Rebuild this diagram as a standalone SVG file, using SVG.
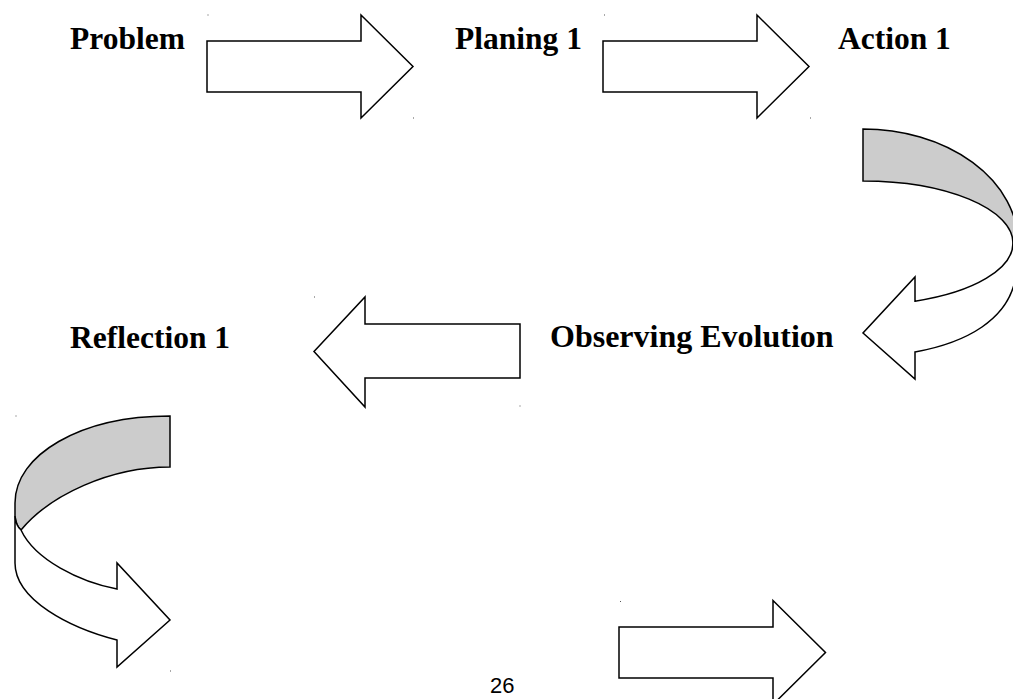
<svg xmlns="http://www.w3.org/2000/svg" width="1013" height="699" viewBox="0 0 1013 699">
  <style>
    .lbl { font-family: "Liberation Serif", "Times New Roman", serif; font-weight: bold; font-size: 31.5px; fill: #000; }
    .arr { fill: #fff; stroke: #000; stroke-width: 1.5; stroke-linejoin: miter; }
    .back { fill: #cccccc; stroke: #000; stroke-width: 1.5; stroke-linejoin: miter; }
    .dot { fill: #555; }
    .pg { font-family: "Liberation Sans", Arial, sans-serif; font-size: 22px; fill: #000; }
  </style>
  <rect width="1013" height="699" fill="#fff"/>

  <g id="node-problem"><text class="lbl" x="70" y="49">Problem</text></g>
  <g id="node-planing1"><text class="lbl" x="455" y="49">Planing 1</text></g>
  <g id="node-action1"><text class="lbl" x="838" y="49">Action 1</text></g>
  <g id="node-observing"><text class="lbl" x="550" y="347" style="font-size:32px">Observing Evolution</text></g>
  <g id="node-reflection1"><text class="lbl" x="70" y="348">Reflection 1</text></g>

  <g id="connectors">
    <path class="arr" d="M207,41 L361,41 L361,15 L413,66.5 L361,118 L361,92 L207,92 Z"/>
    <path class="arr" d="M603,41 L757,41 L757,15 L809,66.5 L757,118 L757,92 L603,92 Z"/>
    <g id="curved-1">
      <path class="back" d="M863,129 A155,114 0 0 1 1018,243 L1013,243 A150,62 0 0 0 863,181 Z"/>
      <path class="arr" d="M1013,243 A150,62 0 0 1 915,301.2 L915,277 L863,333 L915,379 L915,352 C965,343 1010,320 1016,275 L1016,243 Z"/>
    </g>
    <path class="arr" d="M520,324 L365,324 L365,297 L314,351.5 L365,407 L365,378 L520,378 Z"/>
    <g id="curved-2">
      <path class="back" d="M170,416 C80,416 15,455 15,503 L15,516 Q16,526 21,530 C50,495 110,467 170,467 Z"/>
      <path class="arr" d="M21,530 C35,560 80,582 117,589 L117,563 L170,620 L117,667 L117,640 C70,628 15,600 15,563 L15,516 Q16,526 21,530 Z"/>
    </g>
    <path class="arr" d="M619,627 L773,627 L773,600.5 L825.5,652.5 L773,704.5 L773,678 L619,678 Z"/>
  </g>

  <g id="marks">
    <rect class="dot" x="207.5" y="14.5" width="1" height="1"/>
    <rect class="dot" x="413" y="117.5" width="1" height="1"/>
    <rect class="dot" x="604" y="14.5" width="1" height="1"/>
    <rect class="dot" x="810" y="117.5" width="1" height="1"/>
    <rect class="dot" x="314" y="296.5" width="1" height="1"/>
    <rect class="dot" x="519.5" y="405.5" width="1" height="1"/>
    <rect class="dot" x="15.5" y="415.5" width="1" height="1"/>
    <rect class="dot" x="170" y="670.5" width="1" height="1"/>
    <rect class="dot" x="620" y="601" width="1" height="1"/>
  </g>

  <g id="page-number"><text class="pg" x="490" y="693">26</text></g>
</svg>
